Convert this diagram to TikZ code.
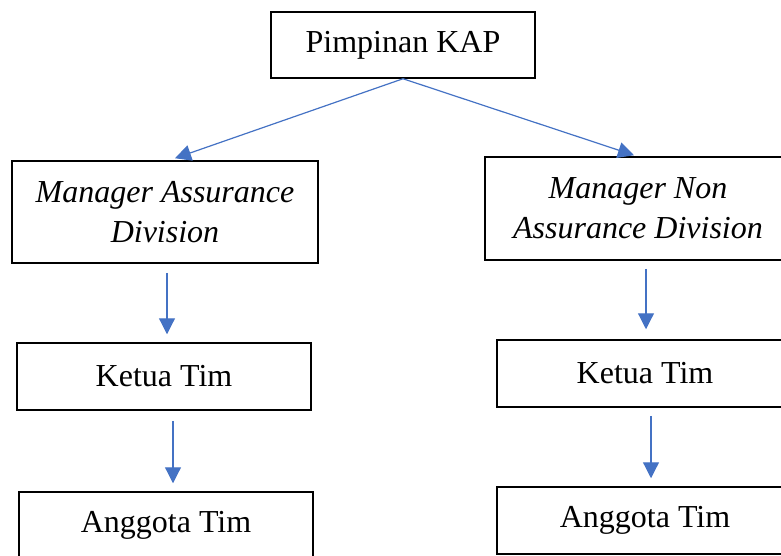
\documentclass[tikz,border=0pt]{standalone}
\usepackage{fontspec}
\setmainfont{Liberation Serif}
\usetikzlibrary{arrows.meta,calc}
\definecolor{arrblue}{HTML}{4472C4}
\tikzset{
  box/.style={draw=black,line width=1.5pt,inner sep=0pt,align=center,font=\fontsize{32}{40}\selectfont},
  arr/.style={draw=arrblue,line width=1.2pt,-{Triangle[length=16pt,width=16pt]}}
}
\begin{document}
\begin{tikzpicture}[x=1pt,y=-1pt]
\useasboundingbox (0,0) rectangle (781,555);
\clip (0,0) rectangle (781,555);
\node[box,minimum width=264pt,minimum height=66pt] (pk) at (403,45) {Pimpinan KAP};
\node[box,minimum width=306pt,minimum height=102pt] (mad) at (165,212) {\itshape Manager Assurance\\\itshape Division};
\node[box,minimum width=306pt,minimum height=103pt] (mnad) at (638,208.5) {\itshape Manager Non\\\itshape Assurance Division};
\node[box,minimum width=294pt,minimum height=67pt] (k1) at (164,376.5) {Ketua Tim};
\node[box,minimum width=296pt,minimum height=67pt] (k2) at (645,373.5) {Ketua Tim};
\node[box,minimum width=294pt,minimum height=67pt] (a1) at (166,525.5) {Anggota Tim};
\node[box,minimum width=296pt,minimum height=67pt] (a2) at (645,520.5) {Anggota Tim};
\draw[arr] (pk.south) -- ([xshift=10pt,yshift=2pt]mad.north);
\draw[arr] (pk.south) -- ([xshift=-4pt,yshift=1pt]mnad.north);
\draw[arr] ([xshift=2pt,yshift=-9pt]mad.south) -- ([xshift=3pt,yshift=8pt]k1.north);
\draw[arr] ([xshift=9pt,yshift=-10pt]k1.south) -- ([xshift=7pt,yshift=8pt]a1.north);
\draw[arr] ([xshift=8pt,yshift=-8pt]mnad.south) -- ([xshift=1pt,yshift=10pt]k2.north);
\draw[arr] ([xshift=6pt,yshift=-8pt]k2.south) -- ([xshift=6pt,yshift=8pt]a2.north);
\end{tikzpicture}
\end{document}
